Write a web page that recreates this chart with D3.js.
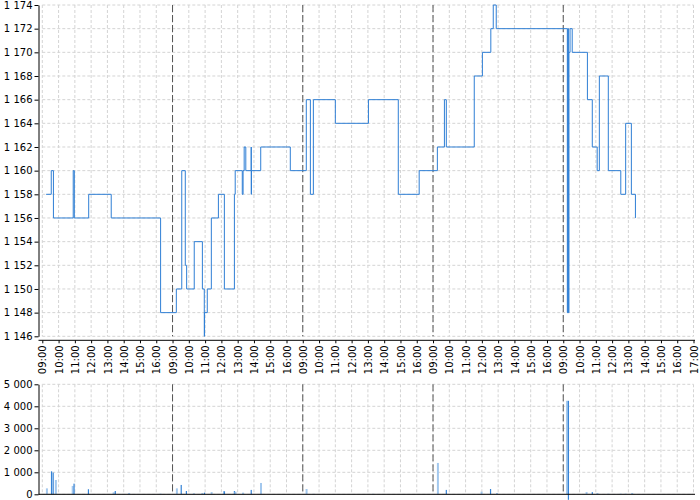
<!DOCTYPE html>
<html><head><meta charset="utf-8">
<script src="https://cdn.jsdelivr.net/npm/d3@7"></script>
<style>
html,body{margin:0;padding:0;background:#fff;}
svg{display:block;font-family:"DejaVu Sans",sans-serif;}
</style></head>
<body>
<svg id="c" width="700" height="500"></svg>
<script>
// ---------- DATA ----------
const sessionHours = ["09:00","10:00","11:00","12:00","13:00","14:00","15:00","16:00"];
const lastTick = "17:00";
const dayCount = 5;
const priceTicks = [1.146,1.148,1.150,1.152,1.154,1.156,1.158,1.160,1.162,1.164,1.166,1.168,1.170,1.172,1.174];
const priceTickLabels = ["1 146","1 148","1 150","1 152","1 154","1 156","1 158","1 160","1 162","1 164","1 166","1 168","1 170","1 172","1 174"];
const volTicks = [0,1000,2000,3000,4000,5000];
const volTickLabels = ["0","1 000","2 000","3 000","4 000","5 000"];

// price steps: "day HH:MM", price
const priceTimes = [
 "1 09:14","1 09:33","1 09:41","1 10:54","1 10:58","1 11:51","1 13:14","1 16:16",
 "2 09:14","2 09:34","2 09:47","2 09:52","2 10:20","2 10:50","2 10:57","2 10:58","2 11:08","2 11:23","2 11:49","2 12:11","2 12:48","2 12:51",
 "2 13:17","2 13:20","2 13:24","2 13:30","2 13:50","2 13:50","2 13:51","2 14:25","2 16:14",
 "3 09:13","3 09:28","3 09:39","3 11:00","3 13:02","3 14:52","3 16:09",
 "4 09:16","4 09:42","4 09:49","4 11:32","4 12:02","4 12:33","4 12:42","4 12:53",
 "5 09:15","5 09:17","5 09:19","5 09:21","5 09:25","5 09:33","5 10:29","5 10:47","5 11:05","5 11:13","5 11:46","5 12:32","5 12:50","5 13:11","5 13:26"
];
const priceValues = [
 1.158,1.160,1.156,1.160,1.156,1.158,1.156,1.148,
 1.150,1.160,1.152,1.150,1.154,1.150,1.146,1.148,1.150,1.156,1.158,1.150,1.158,1.160,
 1.158,1.160,1.162,1.160,1.162,1.158,1.160,1.162,1.160,
 1.166,1.158,1.166,1.164,1.166,1.158,1.160,
 1.162,1.166,1.162,1.168,1.170,1.172,1.174,1.172,
 1.148,1.172,1.148,1.170,1.172,1.170,1.166,1.162,1.160,1.168,1.160,1.158,1.164,1.158,1.156
];

// volume bars
const volTimes = [
 "1 09:17","1 09:34","1 09:40","1 09:50","1 10:52","1 10:57","1 11:50","1 13:23","1 13:29","1 14:20","1 16:16",
 "2 09:16","2 09:32","2 09:51","2 10:19","2 10:50","2 10:58","2 11:24","2 12:10","2 12:11","2 12:48","2 12:52","2 13:20","2 13:50","2 14:26",
 "3 09:14","3 09:40","3 13:19",
 "4 09:18","4 09:49","4 11:59","4 12:32","4 12:56",
 "5 09:14","5 09:19","5 10:26","5 10:47","5 11:06","5 11:46","5 12:32","5 12:50","5 13:14"
];
const volValues = [
 270,1045,985,650,380,485,230,90,150,60,30,
 270,425,150,45,60,75,100,150,130,150,120,75,200,515,
 240,20,20,
 1425,200,120,240,60,
 4250,4250,100,100,60,25,30,30,60
];
const volBase = [
 0,0,0,0,0,0,0,0,0,0,0,
 0,0,0,0,0,0,0,0,0,0,0,0,0,0,
 0,0,0,
 0,0,0,0,0,
 0,-250,0,0,0,0,0,0,0
];
const volKind = [
 "l","d","d","l","l","d","d","l","d","l","l",
 "l","d","d","l","l","d","l","l","d","d","l","l","d","l",
 "l","l","l",
 "l","d","l","d","l",
 "l","d","l","d","l","l","l","l","l"
];

// ---------- HELPERS ----------
function toT(s){
  const [d,hm] = s.split(" ");
  const [h,m] = hm.split(":").map(Number);
  return (+d-1)*8 + (h-9) + m/60;
}
const xTickLabels = [];
for(let d=0; d<dayCount; d++) sessionHours.forEach(h=>xTickLabels.push(h));
xTickLabels.push(lastTick);
const xTickVals = xTickLabels.map((_,i)=>i);
const dayStarts = [8,16,24,32];

// ---------- SCALES ----------
const x = d3.scaleLinear().domain([0,40]).range([42.3,693.5]);
const yP = d3.scaleLinear().domain([1.146,1.174]).range([336.3,5]);
const yV = d3.scaleLinear().domain([0,5000]).range([494.3,384.3]);

const svg = d3.select("#c");
const gridColor = "#d4d4d4";
const lineColor = "#2f7fd5";

// ---------- TOP PANEL GRID ----------
const gTop = svg.append("g");
gTop.selectAll(".vg").data(xTickVals).join("line")
  .attr("x1",d=>x(d)).attr("x2",d=>x(d)).attr("y1",yP(1.174)).attr("y2",yP(1.146))
  .attr("stroke",gridColor).attr("stroke-dasharray","3,2").attr("stroke-width",1);
gTop.selectAll(".hg").data(priceTicks).join("line")
  .attr("x1",x(0)).attr("x2",x(40)).attr("y1",d=>yP(d)).attr("y2",d=>yP(d))
  .attr("stroke",gridColor).attr("stroke-dasharray","3,2").attr("stroke-width",1);
gTop.selectAll(".dl").data(dayStarts).join("line")
  .attr("x1",d=>x(d)).attr("x2",d=>x(d)).attr("y1",yP(1.174)).attr("y2",yP(1.146))
  .attr("stroke","#555").attr("stroke-dasharray","7,3").attr("stroke-width",1);

// price line
const pts = priceTimes.map((s,i)=>[toT(s),priceValues[i]]);
const line = d3.line().x(d=>x(d[0])).y(d=>yP(d[1])).curve(d3.curveStepAfter);
svg.append("path").attr("d",line(pts)).attr("fill","none")
  .attr("stroke",lineColor).attr("stroke-width",1);

// left axis top
const axL = d3.axisLeft(yP).tickValues(priceTicks).tickFormat((d,i)=>priceTickLabels[i]).tickSize(4).tickSizeOuter(0).tickPadding(2);
const gAL = svg.append("g").attr("transform","translate(38.5,0)").call(axL);
gAL.selectAll("text").attr("font-size",10).attr("font-family","DejaVu Sans").attr("fill","#000");
gAL.select(".domain").attr("stroke","#000");

// bottom axis top panel
const axB = d3.axisBottom(x).tickValues(xTickVals).tickFormat((d,i)=>xTickLabels[i]).tickSize(3).tickSizeOuter(0);
const gAB = svg.append("g").attr("transform","translate(0,340.3)").call(axB);
gAB.select(".domain").remove();
gAB.append("line").attr("x1",38.5).attr("x2",695).attr("y1",0).attr("y2",0).attr("stroke","#000");
gAB.selectAll("text").attr("font-size",10).attr("font-family","DejaVu Sans").attr("fill","#000")
  .attr("transform","rotate(-90)").attr("x",-5).attr("y",0).attr("dy","0.36em").style("text-anchor","end");

// ---------- BOTTOM PANEL ----------
const gBot = svg.append("g");
gBot.selectAll(".vg2").data(xTickVals).join("line")
  .attr("x1",d=>x(d)).attr("x2",d=>x(d)).attr("y1",yV(5000)).attr("y2",yV(0))
  .attr("stroke",gridColor).attr("stroke-dasharray","3,2");
gBot.selectAll(".hg2").data(volTicks).join("line")
  .attr("x1",x(0)).attr("x2",x(40)).attr("y1",d=>yV(d)).attr("y2",d=>yV(d))
  .attr("stroke",gridColor).attr("stroke-dasharray","3,2");
gBot.selectAll(".dl2").data(dayStarts).join("line")
  .attr("x1",d=>x(d)).attr("x2",d=>x(d)).attr("y1",yV(5000)).attr("y2",yV(0))
  .attr("stroke","#555").attr("stroke-dasharray","7,3");

const bars = volTimes.map((s,i)=>({t:toT(s),v:volValues[i],b:volBase[i],k:volKind[i]}));
gBot.selectAll(".bar").data(bars).join("rect")
  .attr("x",d=>x(d.t)-(d.k==="l"?1:0.6))
  .attr("width",d=>d.k==="l"?2:1.2)
  .attr("y",d=>yV(d.v))
  .attr("height",d=>yV(d.b)-yV(d.v))
  .attr("fill",d=>d.k==="l"?"#a3c8ee":"#3583d6");

const axL2 = d3.axisLeft(yV).tickValues(volTicks).tickFormat((d,i)=>volTickLabels[i]).tickSize(4).tickSizeOuter(0).tickPadding(2);
const gAL2 = svg.append("g").attr("transform","translate(38.5,0)").call(axL2);
gAL2.selectAll("text").attr("font-size",10).attr("font-family","DejaVu Sans").attr("fill","#000");
gAL2.select(".domain").attr("stroke","#000");
svg.append("line").attr("x1",38.5).attr("x2",695).attr("y1",494.3).attr("y2",494.3).attr("stroke","#000");
</script>
</body></html>
